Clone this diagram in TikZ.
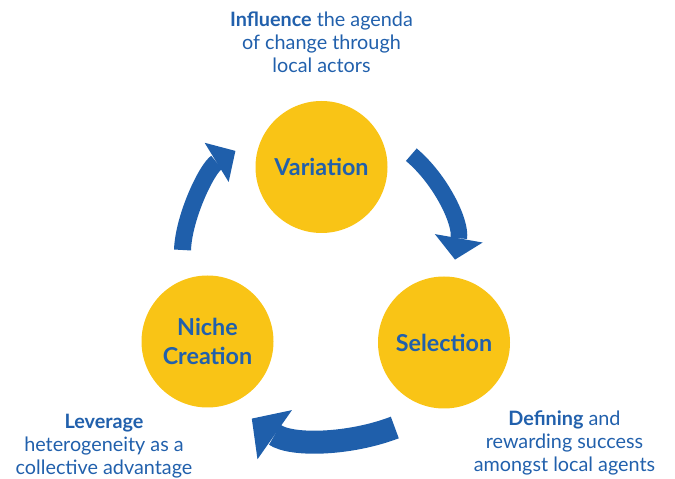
\documentclass[tikz,border=0pt]{standalone}
\usepackage{fontspec}
\setmainfont{Lato}
\usetikzlibrary{arrows.meta}
\definecolor{arrowblue}{HTML}{1F5FAB}
\definecolor{circyellow}{HTML}{F9C416}
\definecolor{textblue}{HTML}{2160AC}
\begin{document}
\begin{tikzpicture}[x=1pt,y=1pt,
  stage/.style={circle, fill=circyellow, minimum size=132pt, inner sep=0pt,
    text=textblue, font=\bfseries\fontsize{23.3}{28.3}\selectfont, align=center},
  caption/.style={text=textblue, font=\fontsize{19.8}{23.3}\selectfont,
    align=center, inner sep=0pt, anchor=base},
  cyclearrow/.style={draw=arrowblue, line cap=butt}
]
\useasboundingbox (0,0) rectangle (675,479);
\node[stage] (var) at (321.5,312) {Variation};
\node[stage] (sel) at (444,136.5) {Selection};
\node[stage] (niche) at (207.5,137.5) {Niche\\Creation};

\node[caption] (capvar) at (321.5,406.3) {\textbf{Influence} the agenda\\of change through\\local actors};
\node[caption] (capsel) at (564.5,7.3) {\textbf{Defining} and\\rewarding success\\amongst local agents};
\node[caption] (capniche) at (104,4) {\textbf{Leverage}\\heterogeneity as a\\collective advantage};

\coordinate (aT) at (182.5,229);
\coordinate (aH) at (235.4,328.1);
\draw[cyclearrow, line width=17pt, -{Triangle[length=22pt,width=46pt,line width=0pt]}]
  (aT) .. controls (183.7,262.3) and (207.0,310.7) .. (aH);

\coordinate (bT) at (411.3,324.3);
\coordinate (bH) at (455.0,219.4);
\draw[cyclearrow, line width=16.5pt, -{Triangle[length=21.6pt,width=48.5pt,line width=0pt]}]
  (bT) .. controls (440.4,299.9) and (461.6,256.8) .. (bH);

\coordinate (cT) at (394.8,51.5);
\coordinate (cH) at (251.8,60.4);
\draw[cyclearrow, line width=23pt, -{Triangle[length=28pt,width=60pt,line width=0pt]}]
  (cT) .. controls (349.6,34.2) and (291.4,32.6) .. (cH);
\end{tikzpicture}
\end{document}
